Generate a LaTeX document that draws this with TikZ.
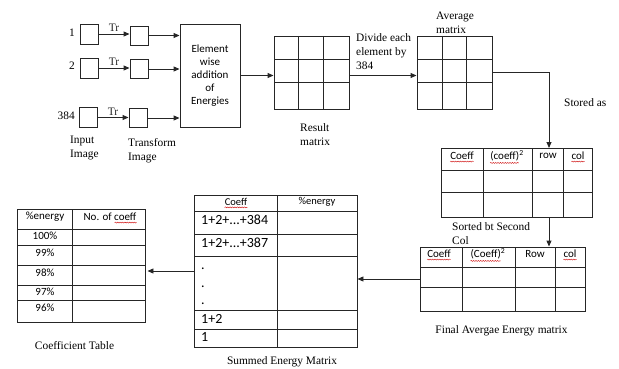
\documentclass[tikz,border=0pt]{standalone}
\usepackage{fontspec}
\setmainfont{Liberation Serif}
\newfontfamily\calibri{Carlito}
\usetikzlibrary{arrows.meta, decorations.pathmorphing}

\tikzset{
  blk/.style={draw=black!85, line width=0.9pt, inner sep=0pt, minimum width=18pt, minimum height=20pt},
  grd/.style={black!85, line width=0.9pt},
  arr/.style={-{Triangle[length=6pt,width=5pt]}, line width=0.9pt, black!85},
  ser/.style={font=\fontsize{11.4}{14}\selectfont, align=left, inner sep=0pt},
  sans/.style={font=\calibri\fontsize{11}{13}\selectfont, inner sep=0pt},
  big/.style={font=\calibri\fontsize{14}{16}\selectfont, inner sep=0pt, anchor=west},
  spell/.style={red!80!black, line width=0.4pt, decorate, decoration={snake, amplitude=0.5pt, segment length=2.4pt}}
}

\begin{document}
\begin{tikzpicture}[x=1pt, y=-1pt]
  \useasboundingbox (0,0) rectangle (619,369);
  % input and transform images
  \node[blk] (in1) at (89,34) {};
  \node[blk] (in2) at (89,68) {};
  \node[blk] (in3) at (88,117.5) {};
  \node[ser, anchor=east] (n1) at (75,33) {1};
  \node[ser, anchor=east] (n2) at (75,66) {2};
  \node[ser, anchor=east] (n3) at (75,116) {384};
  \node[blk, minimum height=19pt] (tr1) at (139,35.5) {};
  \node[blk, minimum height=19pt] (tr2) at (139,69) {};
  \node[blk, minimum height=19pt] (tr3) at (138,118) {};
  \draw[arr] (in1.east) -- (tr1.west |- in1.east) node[ser, midway, above=2pt] (t1) {Tr};
  \draw[arr] (in2.east) -- (tr2.west |- in2.east) node[ser, midway, above=2pt] (t2) {Tr};
  \draw[arr] (in3.east) -- (tr3.west |- in3.east) node[ser, midway, above=2pt] (t3) {Tr};
  \node[ser, anchor=west] (inlab) at (70,148) {Input\\Image};
  \node[ser, anchor=west] (trlab) at (128,151) {Transform\\Image};

  % element wise addition
  \node[blk, minimum width=60pt, minimum height=103pt, align=center,
        font=\calibri\fontsize{11}{13}\selectfont] (add) at (210,75.5)
        {Element\\wise\\addition\\of\\Energies};
  \foreach \t in {tr1,tr2,tr3}
    \draw[arr] (\t.east) -- (\t.east -| add.west);

  % result and average matrix
  \node[blk, minimum width=75pt, minimum height=73pt] (res) at (311.5,72.5) {};
  \node[blk, minimum width=75pt, minimum height=73pt] (avg) at (454.5,72.5) {};
  \foreach \x in {298,323,442,466} \draw[grd] (\x,36) -- (\x,109);
  \foreach \y in {59,82} {
    \draw[grd] (274,\y) -- (349,\y);
    \draw[grd] (417,\y) -- (492,\y);}
  \draw[arr] (add.east) -- (add.east -| res.west);
  \draw[arr] (add.east -| res.east) -- (add.east -| avg.west);
  \node[ser, anchor=west] (reslab) at (300,134.5) {Result\\matrix};
  \node[ser, anchor=west] (divlab) at (356,52) {Divide each\\element by\\384};
  \node[ser, anchor=west] (avglab) at (436,22.5) {Average\\matrix};

  % stored table
  \node[blk, minimum width=151pt, minimum height=69pt] (stab) at (516.5,182.5) {};
  \foreach \x in {483,532,563} \draw[grd] (\x,148) -- (\x,217);
  \foreach \y in {170,192} \draw[grd] (441,\y) -- (592,\y);
  \node[sans] (sh1) at (462,156) {Coeff};
  \node[sans] (sh2) at (507,156) {(coeff)\textsuperscript{2}};
  \node[sans] (sh3) at (548,156) {row};
  \node[sans] (sh4) at (578,156) {col};
  \coordinate (drop) at (549,148);
  \draw[arr] (avg.east) -| (drop);
  \node[ser, anchor=west] (storlab) at (564,103) {Stored as};

  % final average energy table
  \node[blk, minimum width=165pt, minimum height=64pt] (ftab) at (502.5,279) {};
  \foreach \x in {462,515,555} \draw[grd] (\x,247) -- (\x,311);
  \foreach \y in {267,287} \draw[grd] (420,\y) -- (585,\y);
  \node[sans] (fh1) at (439,254) {Coeff};
  \node[sans] (fh2) at (488,254) {(Coeff)\textsuperscript{2}};
  \node[sans] (fh3) at (535,254) {Row};
  \node[sans] (fh4) at (570,254) {col};
  \draw[arr] (drop |- stab.south) -- (drop |- ftab.north);
  \node[ser, anchor=west] (sortlab) at (452,233.5) {Sorted bt Second\\Col};
  \node[ser] (finlab) at (501.5,331) {Final Avergae Energy matrix};

  % summed energy matrix
  \node[blk, minimum width=163pt, minimum height=152pt] (smat) at (275.5,271) {};
  \draw[grd] (277,195) -- (277,347);
  \foreach \y in {211,234,256,310,329} \draw[grd] (194,\y) -- (357,\y);
  \node[sans, font=\calibri\fontsize{10.5}{12}\selectfont] (mh1) at (236,202) {Coeff};
  \node[sans, font=\calibri\fontsize{10.5}{12}\selectfont] (mh2) at (317,202) {\%energy};
  \node[big] (m1) at (201,220) {1+2+...+384};
  \node[big] (m2) at (201,243) {1+2+...+387};
  \node[big] (d1) at (201,269) {.};
  \node[big] (d2) at (201,287) {.};
  \node[big] (d3) at (201,304) {.};
  \node[big] (m3) at (201,319) {1+2};
  \node[big] (m4) at (201,337) {1};
  \draw[arr] (ftab.west) -- (ftab.west -| smat.east);
  \node[ser] (sumlab) at (282,362) {Summed Energy Matrix};

  % coefficient table
  \node[blk, minimum width=128pt, minimum height=113pt] (ctab) at (81,265.5) {};
  \draw[grd] (72,209) -- (72,322);
  \foreach \y in {229,245,265,285,300} \draw[grd] (17,\y) -- (145,\y);
  \node[sans] (ch1) at (45,217) {\%energy};
  \node[sans] (ch2) at (110,217) {No. of coeff};
  \foreach \v/\y [count=\i] in {100/236,99/253,98/273,97/292,96/308}
    \node[sans] (cv\i) at (45,\y) {\v\%};
  \draw[arr, shorten >=2pt] (smat.west) -- (smat.west -| ctab.east);
  \node[ser] (coeflab) at (74.5,346) {Coefficient Table};

  % spell check marks
  \foreach \h in {sh1,sh4,fh1,fh4,mh1}
    \draw[spell] ([yshift=-1.5pt]\h.south west) -- ([yshift=-1.5pt]\h.south east);
  \foreach \h in {sh2,fh2}
    \draw[spell] ([yshift=-1.5pt]\h.south west) -- ([yshift=-1.5pt,xshift=-5pt]\h.south east);
  \draw[spell] ([yshift=-1.5pt,xshift=-22pt]ch2.south east) -- ([yshift=-1.5pt]ch2.south east);
\end{tikzpicture}
\end{document}
